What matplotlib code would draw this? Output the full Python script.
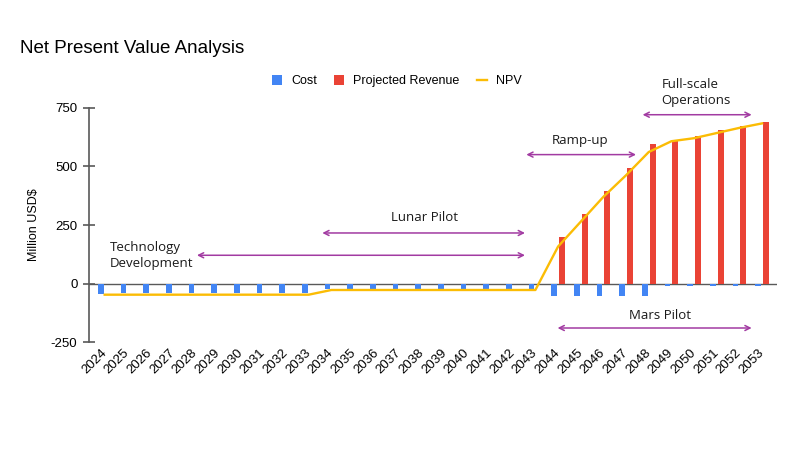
import matplotlib
matplotlib.use("Agg")
import matplotlib.pyplot as plt
import matplotlib.transforms as mtransforms
import numpy as np

plt.rcParams["axes.unicode_minus"] = False

years = [str(y) for y in range(2024, 2054)]
cost = [-45, -40, -40, -40, -40, -40, -40, -40, -40, -40,
        -22, -22, -22, -22, -22, -22, -22, -22, -22, -22,
        -51, -51, -51, -51, -51,
        -11, -11, -11, -11, -11]
revenue = [0] * 20 + [198, 297, 395, 493, 596, 613, 631, 653, 670, 690]
npv = [-47] * 10 + [-27] * 10 + [158, 264, 370, 462, 561, 607, 620, 642, 664, 683]

phases = ["Technology\nDevelopment", "Lunar Pilot", "Ramp-up", "Full-scale\nOperations", "Mars Pilot"]
phase_spans = [(4.07, 18.54, 121), (9.6, 18.54, 216), (18.6, 23.44, 550), (23.73, 28.54, 720), (19.98, 28.54, -189)]

C_COST = "#4285F4"
C_REV = "#EA4335"
C_NPV = "#FBBC04"
C_ARROW = "#A23BA2"
AX_COL = "#595959"

fig = plt.figure(figsize=(8, 4.5), dpi=100)
ax = fig.add_axes([0.1116, 0.2393, 0.8594, 0.5214])

x = np.arange(len(years))
w = 0.26
off = 0.17
b1 = ax.bar(x - off, cost, width=w, color=C_COST, label="Cost", zorder=2)
rev_mask = np.array(revenue) != 0
b2 = ax.bar(x[rev_mask] + off, np.array(revenue)[rev_mask], width=w, color=C_REV,
            label="Projected Revenue", zorder=2)
l1, = ax.plot(x, npv, color=C_NPV, lw=1.7, label="NPV", zorder=3)

ax.axhline(0, color=AX_COL, lw=1.0, zorder=1)

ax.set_xlim(-0.68, 29.65)
ax.set_ylim(-250, 750)
ax.set_yticks([-250, 0, 250, 500, 750])
ax.set_xticks(x)
ax.set_xticklabels(years, rotation=45, ha="right", va="center", rotation_mode="anchor",
                   fontsize=9.5, family="Liberation Sans")
shift = mtransforms.ScaledTranslation(7 / 72, 0, fig.dpi_scale_trans)
for lbl in ax.get_xticklabels():
    lbl.set_transform(lbl.get_transform() + shift)
for lbl in ax.get_yticklabels():
    lbl.set_family("Liberation Sans")
ax.tick_params(axis="x", length=0, pad=6)
ax.tick_params(axis="y", direction="inout", length=9, width=1.2, color=AX_COL,
               labelsize=9.5, pad=4)
for s in ["top", "right", "bottom"]:
    ax.spines[s].set_visible(False)
ax.spines["left"].set_color(AX_COL)
ax.spines["left"].set_linewidth(1.2)
ax.set_ylabel("Million USD$", fontsize=9, family="Liberation Sans", labelpad=8)

# phase annotations
for (x0, x1, yy) in phase_spans:
    ax.annotate("", xy=(x1, yy), xytext=(x0, yy), annotation_clip=False,
                arrowprops=dict(arrowstyle="<->", color=C_ARROW, lw=1.1,
                                shrinkA=0, shrinkB=0, mutation_scale=9))

tfont = dict(family="Open Sans", fontsize=9.5, color="#1a1a1a")
ax.text(0.24, 121, phases[0], ha="left", va="center", linespacing=1.3, **tfont)
ax.text(14.09, 281, phases[1], ha="center", va="center", **tfont)
ax.text(20.97, 609, phases[2], ha="center", va="center", **tfont)
ax.text(24.57, 814, phases[3], ha="left", va="center", linespacing=1.3, clip_on=False, **tfont)
ax.text(24.5, -136, phases[4], ha="center", va="center", **tfont)

fig.text(0.025, 0.893, "Net Present Value Analysis", fontsize=13.5,
         family="Liberation Sans", ha="left", va="center")

fig.legend([b1, b2, l1], ["Cost", "Projected Revenue", "NPV"],
           loc="center", bbox_to_anchor=(0.496, 0.82), ncol=3, frameon=False,
           prop=dict(family="Liberation Sans", size=9), handlelength=0.8,
           handleheight=0.8, columnspacing=1.4, handletextpad=0.7)

fig.savefig("out.png", dpi=100)
